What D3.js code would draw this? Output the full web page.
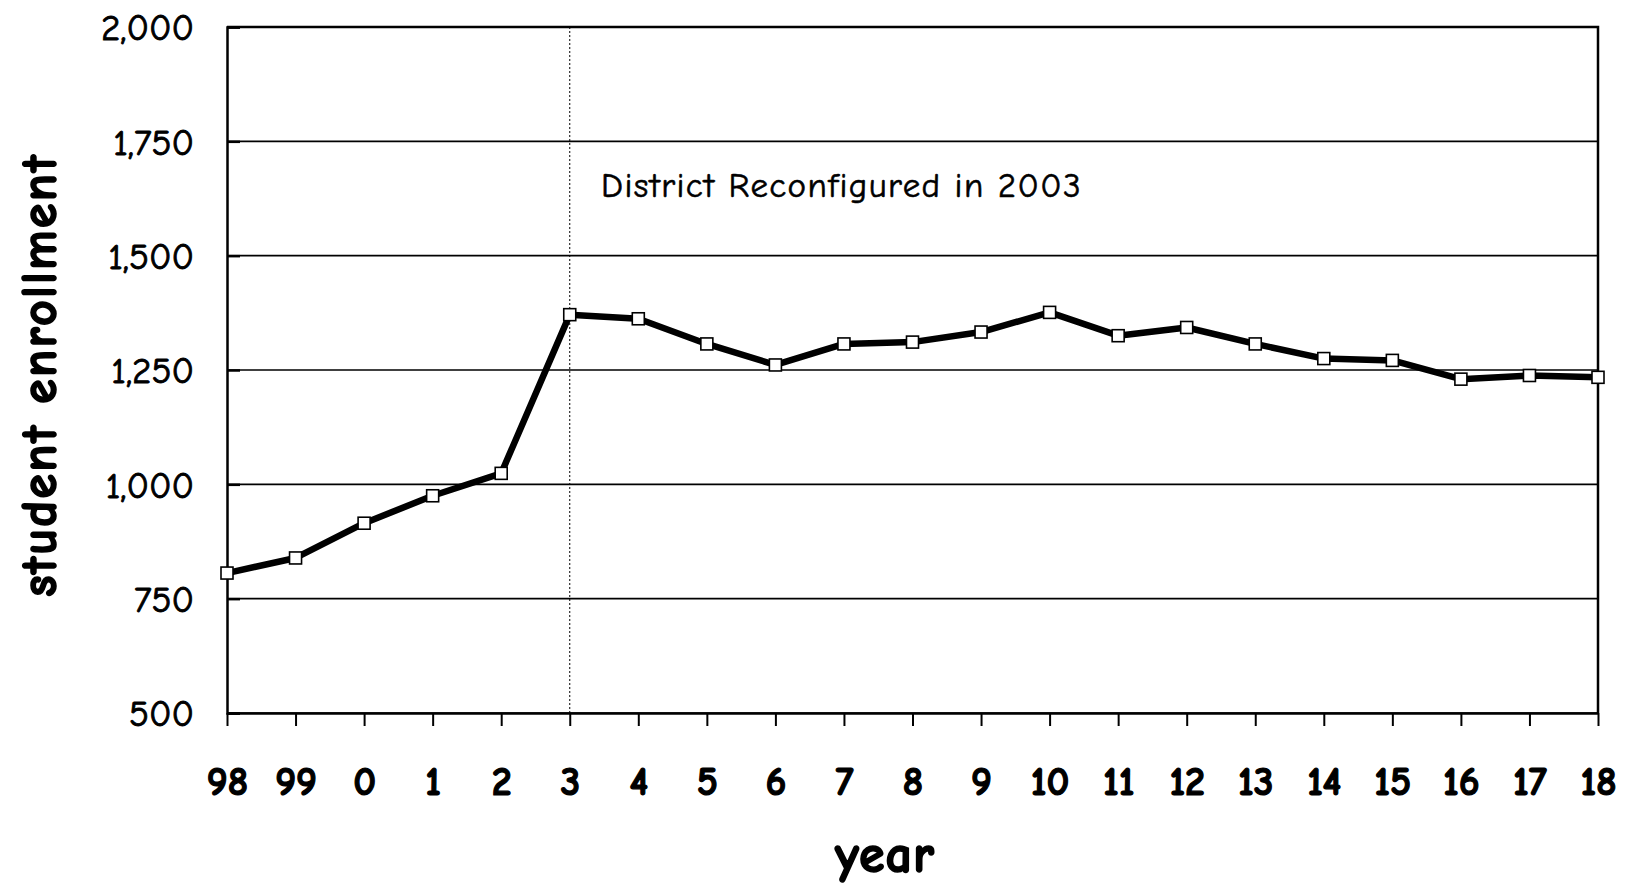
<!DOCTYPE html>
<html>
<head>
<meta charset="utf-8">
<script src="https://cdn.jsdelivr.net/npm/d3@7"></script>
<style>
  html, body { margin: 0; padding: 0; background: #fff; }
  svg { display: block; }
  text { font-family: 'Comic Sans MS', 'Comic Neue', 'Noto Sans', sans-serif; fill: #000; }
</style>
</head>
<body>
<div id="chart"></div>
<script>
const WIDTH = 1634
const HEIGHT = 884

// year labels along the bottom (two-digit years, 1998 - 2018)
const years = ['98', '99', '0', '1', '2', '3', '4', '5', '6', '7', '8', '9', '10', '11', '12', '13', '14', '15', '16', '17', '18']
// student enrollment per year
const enrollment = [806, 839, 915, 975, 1024, 1371, 1362, 1307, 1261, 1307, 1311, 1333, 1376, 1325, 1343, 1307, 1275, 1271, 1230, 1238, 1234]
const yTicks = [500, 750, 1000, 1250, 1500, 1750, 2000]
const reconfigYear = '3'
const noteText = 'District Reconfigured in 2003'

const margin = { top: 27, right: 36, bottom: 171, left: 227 }
const innerW = WIDTH - margin.left - margin.right
const innerH = HEIGHT - margin.top - margin.bottom

const svg = d3.select('#chart')
  .append('svg')
  .attr('width', WIDTH)
  .attr('height', HEIGHT)

const g = svg.append('g')
  .attr('transform', `translate(${margin.left}, ${margin.top})`)

const x = d3.scalePoint()
  .domain(years)
  .range([0, innerW])
  .padding(0)

const y = d3.scaleLinear()
  .domain([500, 2000])
  .range([innerH, 0])

// horizontal grid
g.append('g')
  .selectAll('line')
  .data(yTicks)
  .join('line')
  .attr('x1', 0)
  .attr('x2', innerW)
  .attr('y1', d => y(d))
  .attr('y2', d => y(d))
  .attr('stroke', '#000')
  .attr('stroke-width', 1.6)

// reconfiguration marker
g.append('line')
  .attr('x1', x(reconfigYear))
  .attr('x2', x(reconfigYear))
  .attr('y1', 0)
  .attr('y2', innerH)
  .attr('stroke', '#000')
  .attr('stroke-width', 1)
  .attr('stroke-dasharray', '2,2')

// frame (top + right)
g.append('path')
  .attr('d', `M0,0H${innerW}V${innerH}`)
  .attr('fill', 'none')
  .attr('stroke', '#000')
  .attr('stroke-width', 2.5)

// y axis
const yAxis = g.append('g')
  .call(d3.axisLeft(y)
    .tickValues(yTicks)
    .tickSize(-13)
    .tickFormat(d3.format(',')))
yAxis.select('.domain').attr('stroke-width', 2.5)
yAxis.selectAll('.tick line').attr('stroke-width', 2.5)
yAxis.selectAll('.tick text')
  .attr('x', -33)
  .attr('dy', '0.35em')
  .attr('font-size', 37)
  .attr('font-family', null)
  .attr('stroke', '#000')
  .attr('stroke-width', 0.9)

// x axis
const xAxis = g.append('g')
  .attr('transform', `translate(0, ${innerH})`)
  .call(d3.axisBottom(x).tickSize(13).tickSizeOuter(0))
xAxis.select('.domain').attr('stroke-width', 2.5)
xAxis.selectAll('.tick line').attr('stroke-width', 2)
xAxis.selectAll('.tick text')
  .attr('y', 68)
  .attr('dy', '0.35em')
  .attr('font-size', 40)
  .attr('font-weight', 'bold')
  .attr('font-family', null)
  .attr('stroke', '#000')
  .attr('stroke-width', 1.2)

// enrollment line
const line = d3.line()
  .x((d, i) => x(years[i]))
  .y(d => y(d))

g.append('path')
  .datum(enrollment)
  .attr('fill', 'none')
  .attr('stroke', '#000')
  .attr('stroke-width', 6.5)
  .attr('stroke-linejoin', 'round')
  .attr('d', line)

const MARK = 12
g.append('g')
  .selectAll('rect')
  .data(enrollment)
  .join('rect')
  .attr('x', (d, i) => x(years[i]) - MARK / 2)
  .attr('y', d => y(d) - MARK / 2)
  .attr('width', MARK)
  .attr('height', MARK)
  .attr('fill', '#fff')
  .attr('stroke', '#000')
  .attr('stroke-width', 1.6)

// annotation
g.append('text')
  .attr('x', 601 - margin.left)
  .attr('y', 197 - margin.top)
  .attr('font-size', 35)
  .attr('letter-spacing', 1.4)
  .attr('stroke', '#000')
  .attr('stroke-width', 0.6)
  .text(noteText)

// axis titles
svg.append('text')
  .attr('x', 885)
  .attr('y', 872)
  .attr('text-anchor', 'middle')
  .attr('font-size', 52)
  .attr('font-weight', 'bold')
  .attr('letter-spacing', 1)
  .attr('stroke', '#000')
  .attr('stroke-width', 1.6)
  .text('year')

svg.append('text')
  .attr('transform', 'translate(56, 375) rotate(-90)')
  .attr('text-anchor', 'middle')
  .attr('font-size', 50)
  .attr('font-weight', 'bold')
  .attr('letter-spacing', 2.2)
  .attr('stroke', '#000')
  .attr('stroke-width', 1.6)
  .text('student enrollment')
</script>
</body>
</html>
